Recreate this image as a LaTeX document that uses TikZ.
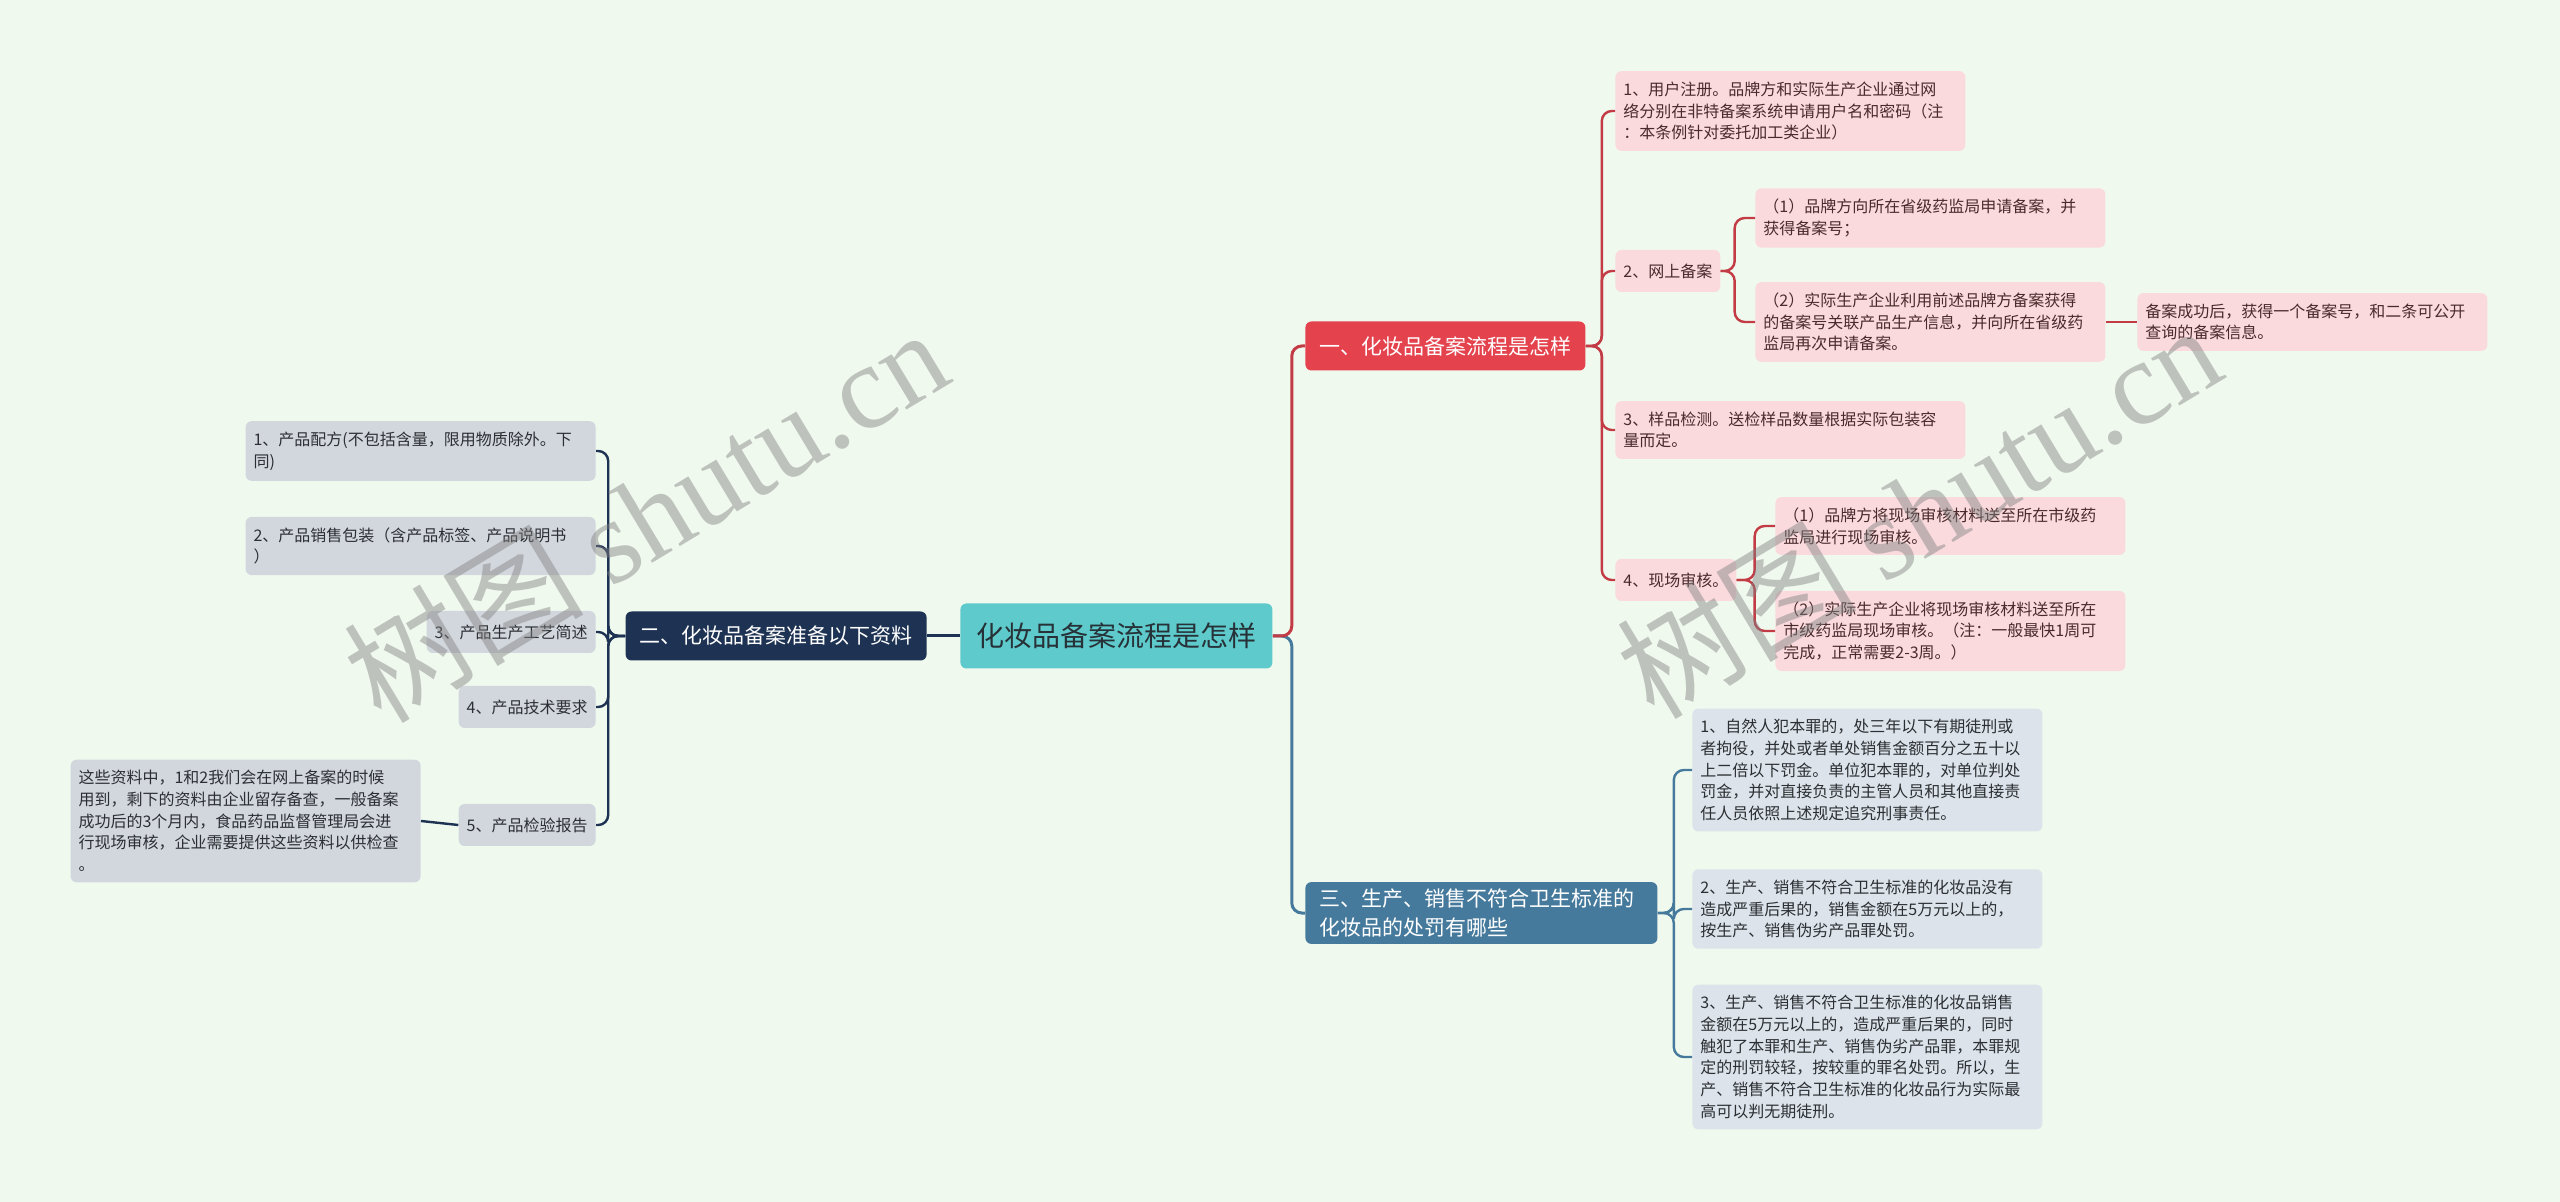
\documentclass[tikz,border=0pt]{standalone}
\usepackage{fontspec}
\setmainfont{Noto Sans CJK SC}
\newfontfamily\wmlatin{Liberation Serif}
\definecolor{bgc}{HTML}{F0F9EE}
\definecolor{rootc}{HTML}{5FCACB}
\definecolor{roottext}{HTML}{263238}
\definecolor{redc}{HTML}{E4424D}
\definecolor{redline}{HTML}{C23B45}
\definecolor{navyc}{HTML}{1E3353}
\definecolor{bluec}{HTML}{467A9C}
\definecolor{pinkc}{HTML}{FADADD}
\definecolor{pinktext}{HTML}{4A2B2B}
\definecolor{greya}{HTML}{DCE3EA}
\definecolor{greyb}{HTML}{D2D7DE}
\definecolor{greytext}{HTML}{2B2F33}

\begin{document}
\begin{tikzpicture}[x=0.5pt,y=-0.5pt,
  root/.style={fill=rootc,text=roottext,rounded corners=3pt,inner xsep=8pt,
    minimum height=32.5pt,font=\fontsize{14pt}{17pt}\selectfont},
  lvlone/.style={rounded corners=3pt,text=white,inner xsep=7pt,
    minimum height=24.5pt,align=left,font=\fontsize{10.5pt}{14.5pt}\selectfont},
  leaf/.style={rounded corners=3pt,inner xsep=4pt,inner ysep=5.3pt,
    minimum height=21pt,align=left,font=\fontsize{8pt}{10.85pt}\selectfont},
  wide/.style={text width=167pt},
  pinkbox/.style={leaf,fill=pinkc,text=pinktext},
  bluebox/.style={leaf,fill=greya,text=greytext},
  greybox/.style={leaf,fill=greyb,text=greytext},
  link/.style={line width=1.5pt,rounded corners=5pt},
  sublink/.style={line width=1.2pt,rounded corners=5pt},
  wmark/.style={rotate=31,text=gray,opacity=0.45,font=\fontsize{60pt}{60pt}\selectfont}]
% background, fixes the page size
\fill[bgc] (0,0) rectangle (2560,1202);
\useasboundingbox (0,0) rectangle (2560,1202);

% centre and main branches
\node[root,anchor=west] (root) at (960,636) {化妆品备案流程是怎样};
\node[lvlone,fill=redc,anchor=west] (bone) at (1305,346) {一、化妆品备案流程是怎样};
\node[lvlone,fill=navyc,anchor=east] (btwo) at (927,636) {二、化妆品备案准备以下资料};
\node[lvlone,fill=bluec,anchor=west,text width=162pt] (bthree) at (1305,913)
  {三、生产、销售不符合卫生标准的\\化妆品的处罚有哪些};

% branch one: the filing steps
\node[pinkbox,wide,anchor=west] (pone) at (1615,111)
  {1、用户注册。品牌方和实际生产企业通过网\\络分别在非特备案系统申请用户名和密码（注\\：本条例针对委托加工类企业）};
\node[pinkbox,anchor=west] (ptwo) at (1615,271) {2、网上备案};
\node[pinkbox,wide,anchor=west] (ptwoa) at (1755,218)
  {（1）品牌方向所在省级药监局申请备案，并\\获得备案号；};
\node[pinkbox,wide,anchor=west] (ptwob) at (1755,322)
  {（2）实际生产企业利用前述品牌方备案获得\\的备案号关联产品生产信息，并向所在省级药\\监局再次申请备案。};
\node[pinkbox,wide,anchor=west] (ptwoc) at (2137,322)
  {备案成功后，获得一个备案号，和二条可公开\\查询的备案信息。};
\node[pinkbox,wide,anchor=west] (pthree) at (1615,430)
  {3、样品检测。送检样品数量根据实际包装容\\量而定。};
\node[pinkbox,anchor=west] (pfour) at (1615,580) {4、现场审核。};
\node[pinkbox,wide,anchor=west] (pfoura) at (1775,526)
  {（1）品牌方将现场审核材料送至所在市级药\\监局进行现场审核。};
\node[pinkbox,wide,anchor=west] (pfourb) at (1775,631)
  {（2）实际生产企业将现场审核材料送至所在\\市级药监局现场审核。（注：一般最快1周可\\完成，正常需要2-3周。）};

% branch three: penalties
\node[bluebox,wide,anchor=west] (qone) at (1692,770)
  {1、自然人犯本罪的，处三年以下有期徒刑或\\者拘役，并处或者单处销售金额百分之五十以\\上二倍以下罚金。单位犯本罪的，对单位判处\\罚金，并对直接负责的主管人员和其他直接责\\任人员依照上述规定追究刑事责任。};
\node[bluebox,wide,anchor=west] (qtwo) at (1692,909)
  {2、生产、销售不符合卫生标准的化妆品没有\\造成严重后果的，销售金额在5万元以上的，\\按生产、销售伪劣产品罪处罚。};
\node[bluebox,wide,anchor=west] (qthree) at (1692,1057)
  {3、生产、销售不符合卫生标准的化妆品销售\\金额在5万元以上的，造成严重后果的，同时\\触犯了本罪和生产、销售伪劣产品罪，本罪规\\定的刑罚较轻，按较重的罪名处罚。所以，生\\产、销售不符合卫生标准的化妆品行为实际最\\高可以判无期徒刑。};

% branch two: documents (left side)
\node[greybox,wide,anchor=east] (rone) at (596,451)
  {1、产品配方(不包括含量，限用物质除外。下\\同)};
\node[greybox,wide,anchor=east] (rtwo) at (596,546)
  {2、产品销售包装（含产品标签、产品说明书\\）};
\node[greybox,anchor=east] (rthree) at (596,632) {3、产品生产工艺简述};
\node[greybox,anchor=east] (rfour) at (596,707) {4、产品技术要求};
\node[greybox,anchor=east] (rfive) at (596,825) {5、产品检验报告};
\node[greybox,wide,anchor=east] (rfivea) at (421,821)
  {这些资料中，1和2我们会在网上备案的时候\\用到，剩下的资料由企业留存备查，一般备案\\成功后的3个月内，食品药品监督管理局会进\\行现场审核，企业需要提供这些资料以供检查\\。};

% connectors
\draw[link,bluec] (root.east) -- ++(19,0) |- (bthree.west);
\draw[link,redline] (root.east) -- ++(19,0) |- (bone.west);
\draw[link,navyc] (root.west) -- (btwo.east);
\foreach \c in {pone,ptwo,pthree,pfour}
  \draw[sublink,redline] (bone.east) -- ++(16,0) |- (\c.west);
\foreach \c in {ptwoa,ptwob}
  \draw[sublink,redline] (ptwo.east) -- ++(14,0) |- (\c.west);
\draw[sublink,redline] (ptwob.east) -- (ptwoc.west);
\foreach \c in {pfoura,pfourb}
  \draw[sublink,redline] (pfour.east) -- ++(18,0) |- (\c.west);
\foreach \c in {qone,qtwo,qthree}
  \draw[sublink,bluec] (bthree.east) -- ++(16,0) |- (\c.west);
\foreach \c in {rone,rtwo,rthree,rfour,rfive}
  \draw[sublink,navyc] (btwo.west) -- ++(-17,0) |- (\c.east);
\draw[sublink,navyc] (rfive.west) -- (rfivea.east);

% watermarks
\node[wmark] (wmone) at (645,514) {树图 {\wmlatin shutu.cn}};
\node[wmark] (wmtwo) at (1918,510) {树图 {\wmlatin shutu.cn}};
\end{tikzpicture}
\end{document}
